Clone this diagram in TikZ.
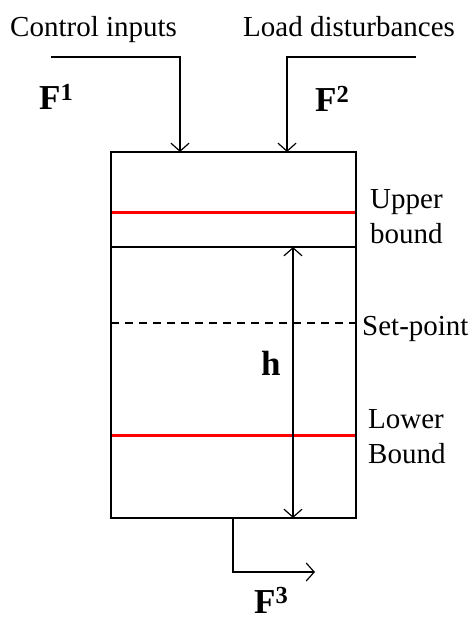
\documentclass[tikz,border=0pt]{standalone}
\usepackage{fontspec}
\setmainfont{Liberation Serif}
\usetikzlibrary{arrows.meta}
\tikzset{
  lbl/.style={font=\fontsize{29}{33}\selectfont, inner sep=0pt, anchor=base west},
  blbl/.style={font=\fontsize{35}{40}\selectfont\bfseries, inner sep=0pt, anchor=base west},
  wire/.style={line width=1.2pt},
  flow/.style={wire, -{Straight Barb[length=8pt,width=18pt,line width=1.2pt]}},
  bound/.style={line width=3pt, red},
}
\begin{document}
\begin{tikzpicture}[x=1pt,y=-1pt]
\useasboundingbox (0,0) rectangle (473,623);
% tank corners
\coordinate (tl) at (111,152);
\coordinate (tr) at (356,152);
\coordinate (bl) at (111,518);
\coordinate (br) at (356,518);
\draw[wire] (tl) rectangle (br);
% inside lines
\draw[bound] (112,212) -- (355,212);
\draw[bound] (112,435) -- (355,435);
\coordinate (lvl) at (293,247);
\coordinate (bot) at (293,518);
\draw[wire] (111,247) -- (356,247);
\draw[wire, dashed, dash pattern=on 8pt off 6pt] (111,323) -- (356,323);
\draw[flow] (bot) -- (lvl);
\draw[flow] (lvl) -- (bot);
% inputs
\coordinate (in1s) at (51,57);
\coordinate (in1c) at (180,57);
\coordinate (in1e) at (180,152);
\draw[flow] (in1s) -- (in1c) -- (in1e);
\coordinate (in2s) at (416,57);
\coordinate (in2c) at (287,57);
\coordinate (in2e) at (287,152);
\draw[flow] (in2s) -- (in2c) -- (in2e);
% output
\coordinate (outs) at (233,518);
\coordinate (outc) at (233,572);
\coordinate (oute) at (315,572);
\draw[flow] (outs) -- (outc) -- (oute);
% labels
\node[lbl] (ci) at (10,37) {Control inputs};
\node[lbl] (ld) at (243,37) {Load disturbances};
\node[blbl] (f1) at (39,110) {F\textsuperscript{1}};
\node[blbl] (f2) at (315,112) {F\textsuperscript{2}};
\node[blbl] (h) at (261,375) {h};
\node[blbl] (f3) at (254,613) {F\textsuperscript{3}};
\node[lbl] (up) at (370,208) {Upper};
\node[lbl] (ub) at (370,243) {bound};
\node[lbl] (sp) at (362,335) {Set-point};
\node[lbl] (lo) at (368,428) {Lower};
\node[lbl] (lb) at (368,463) {Bound};
\end{tikzpicture}
\end{document}
